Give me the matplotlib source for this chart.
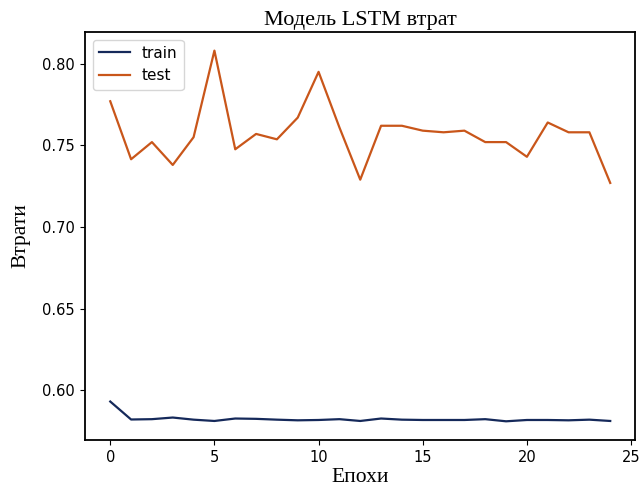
import matplotlib
matplotlib.use("Agg")
import matplotlib.pyplot as plt

# === Loss per epoch ===
epochs = list(range(25))
train_loss = [0.5932, 0.5822, 0.5824, 0.5834, 0.5821, 0.5813, 0.5828, 0.5826,
              0.5821, 0.5817, 0.5819, 0.5824, 0.5813, 0.5828, 0.5821, 0.5819,
              0.5819, 0.5819, 0.5824, 0.5811, 0.5819, 0.5819, 0.5817, 0.5821,
              0.5813]
test_loss = [0.777, 0.7415, 0.752, 0.738, 0.755, 0.808, 0.7476, 0.757,
             0.7537, 0.767, 0.795, 0.761, 0.729, 0.762, 0.762, 0.759,
             0.758, 0.759, 0.752, 0.752, 0.743, 0.764, 0.758, 0.758, 0.727]

fig = plt.figure(figsize=(6.41, 4.86), dpi=100)
ax = fig.add_axes([0.133, 0.095, 0.858, 0.839])

ax.plot(epochs, train_loss, color="#15295a", lw=1.6, label="train")
ax.plot(epochs, test_loss, color="#c9561a", lw=1.6, label="test")

serif = "Liberation Serif"
ax.set_title("Модель LSTM втрат", family=serif, fontsize=16, pad=5)
ax.set_xlabel("Епохи", family=serif, fontsize=15.5, labelpad=2)
ax.set_ylabel("Втрати", family=serif, fontsize=15.5, labelpad=8)
ax.set_xticks([0, 5, 10, 15, 20, 25])
ax.set_yticks([0.60, 0.65, 0.70, 0.75, 0.80])
ax.tick_params(labelsize=10.5, pad=4)
for s in ax.spines.values():
    s.set_linewidth(1.3)

ax.legend(loc="upper left", fontsize=11)

fig.savefig("out.png", dpi=100)
